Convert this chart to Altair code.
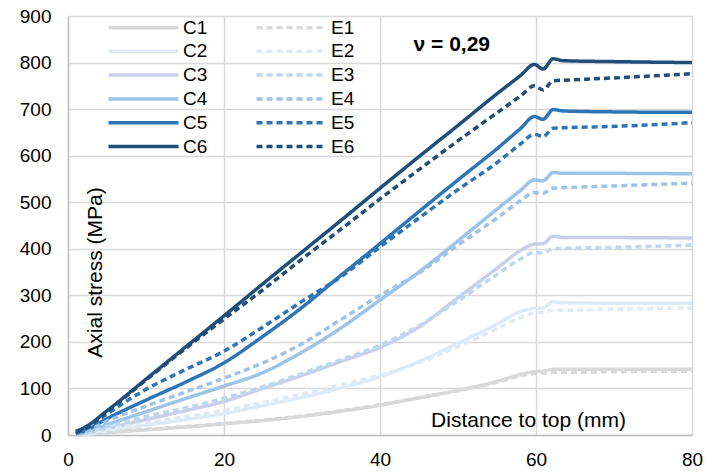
import altair as alt
import pandas as pd

# x positions (mm) at which the curves were read
xs = [1, 2, 5, 10, 15, 20, 25, 30, 35, 40, 45, 50, 55, 58, 59.8, 60.9, 62.2, 63.5, 70, 80]

C1 = [0, 1, 5, 11, 17, 24, 31, 40, 51, 64, 80, 96, 115, 130, 136, 137, 141, 141, 141, 141]
C2 = [1, 2, 9, 21, 33, 46, 63, 81, 101, 125, 158, 197, 238, 265, 272, 273, 286, 284, 283, 283]
C3 = [1, 3, 14, 33, 52, 72, 100, 128, 158, 188, 232, 295, 358, 396, 410, 411, 427, 424, 424, 423]
C4 = [2, 5, 22, 50, 78, 105, 134, 178, 230, 290, 350, 417, 485, 525, 548, 546, 564, 562, 562, 561]
C5 = [3, 8, 35, 75, 113, 155, 212, 274, 343, 411, 480, 548, 615, 658, 684, 678, 699, 696, 694, 693]
C6 = [8, 15, 52, 120, 188, 256, 325, 393, 461, 530, 598, 665, 733, 772, 796, 786, 808, 804, 802, 800]

E1 = [0, 1, 6, 12, 18, 25, 32, 41, 52, 65, 80, 95, 113, 127, 132, 133, 135, 135, 136, 137]
E2 = [1, 3, 12, 26, 39, 53, 70, 88, 108, 128, 155, 190, 228, 252, 262, 263, 268, 268, 270, 273]
E3 = [1, 4, 18, 40, 58, 79, 104, 132, 162, 193, 235, 288, 345, 378, 392, 391, 400, 401, 403, 408]
E4 = [2, 6, 30, 62, 92, 122, 155, 196, 248, 300, 348, 408, 466, 503, 521, 519, 530, 531, 535, 541]
E5 = [3, 10, 45, 98, 140, 180, 232, 287, 340, 404, 466, 527, 585, 625, 646, 641, 659, 660, 663, 671]
E6 = [6, 12, 50, 118, 185, 249, 312, 378, 442, 507, 570, 632, 692, 728, 750, 741, 761, 762, 767, 776]

series = {"C1": C1, "C2": C2, "C3": C3, "C4": C4, "C5": C5, "C6": C6,
          "E1": E1, "E2": E2, "E3": E3, "E4": E4, "E5": E5, "E6": E6}

colors = {"C1": "#d9d9d9", "C2": "#deebf7", "C3": "#c9cfe8", "C4": "#9dc3e6",
          "C5": "#2e75b6", "C6": "#1f4e79",
          "E1": "#d9d9d9", "E2": "#deebf7", "E3": "#bdd7ee", "E4": "#9dc3e6",
          "E5": "#2e75b6", "E6": "#1f4e79"}

legend_order = ["C1", "C2", "C3", "C4", "C5", "C6", "E1", "E2", "E3", "E4", "E5", "E6"]

rows = []
for name, vals in series.items():
    for i, (x, y) in enumerate(zip(xs, vals)):
        rows.append({"series": name, "x": x, "y": y, "i": i})
df = pd.DataFrame(rows)

note_df = pd.DataFrame({"x": [49.2], "y": [838], "label": ["ν = 0,29"]})

FONT = "Liberation Sans"

x_scale = alt.Scale(domain=[0, 80], nice=False)
y_scale = alt.Scale(domain=[0, 900], nice=False)

lines = alt.Chart(df).mark_line(strokeCap="butt", strokeJoin="round",
                                interpolate="monotone").encode(
    x=alt.X("x:Q", scale=x_scale,
            axis=alt.Axis(values=[0, 20, 40, 60, 80], title="Distance to top (mm)",
                          titleX=460, titleY=-15, titleBaseline="middle",
                          titleAlign="center", titleFontWeight="normal",
                          titleFontSize=21, titleFont=FONT,
                          labelPadding=15, labelFontSize=19, labelFont=FONT,
                          labelFlush=False,
                          labelColor="#000000", ticks=False,
                          domainColor="#bfbfbf", domainWidth=1.5,
                          gridColor="#d9d9d9", gridWidth=1.5)),
    y=alt.Y("y:Q", scale=y_scale,
            axis=alt.Axis(values=list(range(0, 901, 100)), title="Axial stress (MPa)",
                          titleX=27, titleY=256, titleAngle=-90,
                          titleBaseline="middle", titleAlign="center",
                          titleFontWeight="normal", titleFontSize=21, titleFont=FONT,
                          labelPadding=17, labelFontSize=19, labelFont=FONT,
                          labelColor="#000000", ticks=False,
                          domainColor="#bfbfbf", domainWidth=1.5,
                          gridColor="#d9d9d9", gridWidth=1.5)),
    color=alt.Color("series:N",
                    scale=alt.Scale(domain=legend_order,
                                    range=[colors[s] for s in legend_order]),
                    legend=alt.Legend(title=None, orient="none", columns=2,
                                      direction="vertical",
                                      legendX=66, legendY=2,
                                      symbolType="M-5,0H5", symbolSize=196,
                                      labelFontSize=19, labelFont=FONT,
                                      labelColor="#000000", labelOffset=30,
                                      columnPadding=41, rowPadding=3.8,
                                      labelLimit=100)),
    strokeDash=alt.StrokeDash("series:N",
                              scale=alt.Scale(domain=legend_order,
                                              range=[[1, 0] if s.startswith("C") else [6, 4]
                                                     for s in legend_order])),
    strokeWidth=alt.StrokeWidth("series:N",
                                scale=alt.Scale(domain=legend_order,
                                                range=[3.5 if s.startswith("C") else 2.2
                                                       for s in legend_order])),
    order=alt.Order("i:Q"),
)

note = alt.Chart(note_df).mark_text(fontSize=21, fontWeight="bold", font=FONT,
                                    color="#000000", align="center",
                                    baseline="middle").encode(
    x=alt.X("x:Q", scale=x_scale),
    y=alt.Y("y:Q", scale=y_scale),
    text="label:N",
)

chart = alt.layer(lines, note).properties(
    width=624, height=419,
    autosize=alt.AutoSizeParams(type="none"),
    padding={"left": 68, "top": 16, "right": 27, "bottom": 37},
    background="#ffffff",
).configure_view(stroke=None)

chart.save("out.html", embed_options={"renderer": "svg", "actions": False})
